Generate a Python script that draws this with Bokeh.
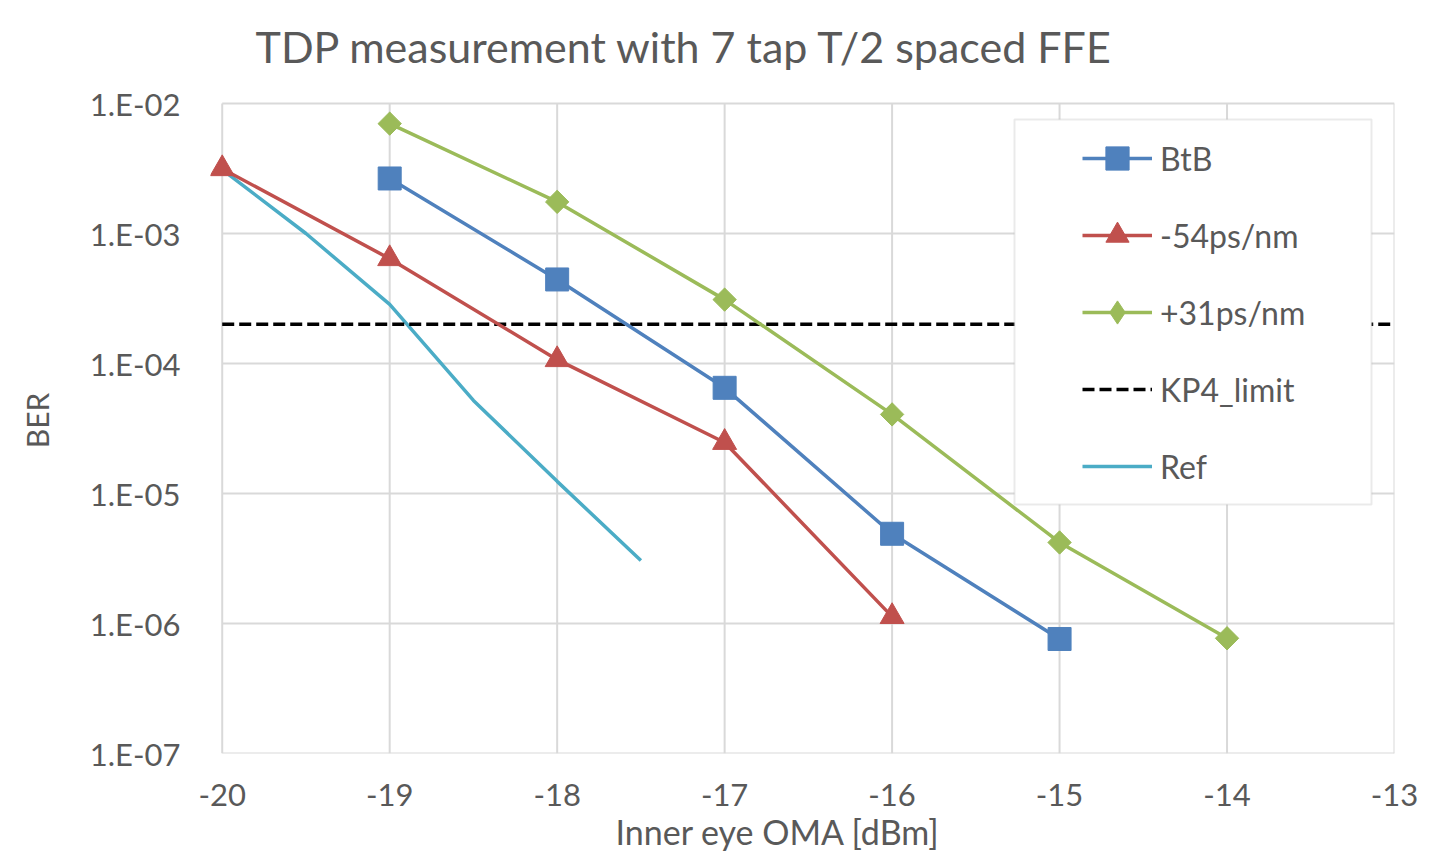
from bokeh.plotting import figure
from bokeh.models import (Range1d, FixedTicker, CustomJSTickFormatter, Legend, LegendItem,
                          BoxAnnotation, Title)
from bokeh.embed import file_html
from bokeh.resources import INLINE
import math

# ---- data ----
btb_x = [-19, -18, -17, -16, -15]
btb_y = [2.65e-3, 4.43e-4, 6.5e-5, 4.9e-6, 7.6e-7]

m54_x = [-20, -19, -18, -17, -16]
m54_y = [3.15e-3, 6.4e-4, 1.07e-4, 2.47e-5, 1.13e-6]

p31_x = [-19, -18, -17, -16, -15, -14]
p31_y = [7.0e-3, 1.75e-3, 3.1e-4, 4.06e-5, 4.2e-6, 7.7e-7]

kp4_x = [-20, -13]
kp4_y = [2.0e-4, 2.0e-4]

ref_x = [-20, -19.5, -19, -18.5, -18, -17.5]
ref_y = [3.1e-3, 1.0e-3, 2.85e-4, 5.2e-5, 1.24e-5, 3.05e-6]

x_ticks = [-20, -19, -18, -17, -16, -15, -14, -13]
y_ticks = [1e-7, 1e-6, 1e-5, 1e-4, 1e-3, 1e-2]
y_labels = ["1.E-07", "1.E-06", "1.E-05", "1.E-04", "1.E-03", "1.E-02"]

FONT = "Lato"
TXT = "#595959"
GRID = "#d9d9d9"

# The frame is padded slightly beyond the axis extent (left and top) so that
# edge markers are not clipped and the title can sit higher; grid lines are
# drawn only across the real axis extent.
PAD_X = 0.07
PAD_TOP = 10 ** (16 / 130)
p = figure(width=1432, height=858, output_backend="svg", toolbar_location=None,
           x_range=Range1d(x_ticks[0] - PAD_X, x_ticks[-1]),
           y_range=Range1d(y_ticks[0], y_ticks[-1] * PAD_TOP), y_axis_type="log",
           min_border_left=210, min_border_right=38, min_border_top=87, min_border_bottom=105)

p.outline_line_color = None
p.background_fill_color = "white"
p.border_fill_color = "white"

# title
p.title.text = "TDP measurement with 7 tap T/2 spaced FFE"
p.title.text_font = FONT
p.title.text_font_size = "43px"
p.title.text_font_style = "normal"
p.title.text_color = TXT
p.title.align = "left"
p.title.offset = 45
p.title.standoff = 32

# axes
for ax in (p.xaxis[0], p.yaxis[0]):
    ax.axis_line_color = None
    ax.major_tick_line_color = None
    ax.minor_tick_line_color = None
    ax.major_label_text_font = FONT
    ax.major_label_text_font_size = "31px"
    ax.major_label_text_color = TXT
    ax.axis_label_text_font = FONT
    ax.axis_label_text_font_size = "30px"
    ax.axis_label_text_font_style = "normal"
    ax.axis_label_text_color = TXT

p.xaxis[0].ticker = FixedTicker(ticks=x_ticks)
p.xaxis[0].formatter = CustomJSTickFormatter(code="return String(tick);")
p.yaxis[0].ticker = FixedTicker(ticks=y_ticks)
p.yaxis[0].formatter = CustomJSTickFormatter(args=dict(tv=y_ticks, tl=y_labels), code="""
const i = tv.findIndex(t => Math.abs(Math.log10(t) - Math.log10(tick)) < 0.01);
return i >= 0 ? tl[i] : "";
""")
p.yaxis[0].axis_label = "BER"
p.xaxis[0].major_label_standoff = 24
p.yaxis[0].major_label_standoff = 24
p.yaxis[0].axis_label_standoff = 32

xtitle = Title(text="Inner eye OMA [dBm]", align="left", offset=405,
               text_font=FONT, text_font_size="34px", text_font_style="normal",
               text_color=TXT, standoff=0)
p.add_layout(xtitle, "below")

p.xgrid.grid_line_color = None
p.ygrid.grid_line_color = None

# grid lines spanning exactly the axis extent
p.segment(x0=[x_ticks[0]] * len(y_ticks), x1=[x_ticks[-1]] * len(y_ticks),
          y0=y_ticks, y1=y_ticks, line_color=GRID, line_width=2)
p.segment(x0=x_ticks, x1=x_ticks, y0=[y_ticks[0]] * len(x_ticks),
          y1=[y_ticks[-1]] * len(x_ticks), line_color=GRID, line_width=2)

# series
BLUE, RED, GREEN, CYAN = "#4F81BD", "#C0504D", "#9BBB59", "#4BACC6"
LW = 3.5

r_ref = p.line(ref_x, ref_y, line_color=CYAN, line_width=LW)
r_kp4 = p.line(kp4_x, kp4_y, line_color="black", line_width=LW, line_dash="12 5")
r_p31l = p.line(p31_x, p31_y, line_color=GREEN, line_width=LW)
# diamond (used for the legend symbol; hidden under the rotated squares)
r_p31d = p.scatter(p31_x, p31_y, marker="diamond", size=22, fill_color=GREEN, line_color=GREEN)
r_p31m = p.scatter(p31_x, p31_y, marker="square", angle=math.pi / 4, size=16.5,
                   fill_color=GREEN, line_color=GREEN)
r_m54l = p.line(m54_x, m54_y, line_color=RED, line_width=LW)
r_m54m = p.scatter(m54_x, m54_y, marker="triangle", size=24, fill_color=RED, line_color=RED)
r_btbl = p.line(btb_x, btb_y, line_color=BLUE, line_width=LW)
r_btbm = p.scatter(btb_x, btb_y, marker="square", size=23, fill_color=BLUE, line_color=BLUE)

# legend box (screen units relative to frame bottom-left; frame left is at 210px)
box = BoxAnnotation(left=804, right=1161, top=634, bottom=249,
                    left_units="screen", right_units="screen",
                    top_units="screen", bottom_units="screen",
                    fill_color="white", fill_alpha=1.0, line_color="#b8b8b8", line_width=2)
p.add_layout(box)

legend = Legend(items=[
    LegendItem(label="BtB", renderers=[r_btbl, r_btbm]),
    LegendItem(label="-54ps/nm", renderers=[r_m54l, r_m54m]),
    LegendItem(label="+31ps/nm", renderers=[r_p31l, r_p31d]),
    LegendItem(label="KP4_limit", renderers=[r_kp4]),
    LegendItem(label="Ref", renderers=[r_ref]),
], location=(872, 258), padding=0, margin=0, spacing=19,
   glyph_width=70, glyph_height=58, label_height=58, label_standoff=8,
   label_text_font=FONT, label_text_font_size="32px", label_text_color=TXT,
   background_fill_alpha=0, border_line_color=None)
p.add_layout(legend)

open("out.html", "w").write(file_html(p, INLINE))
